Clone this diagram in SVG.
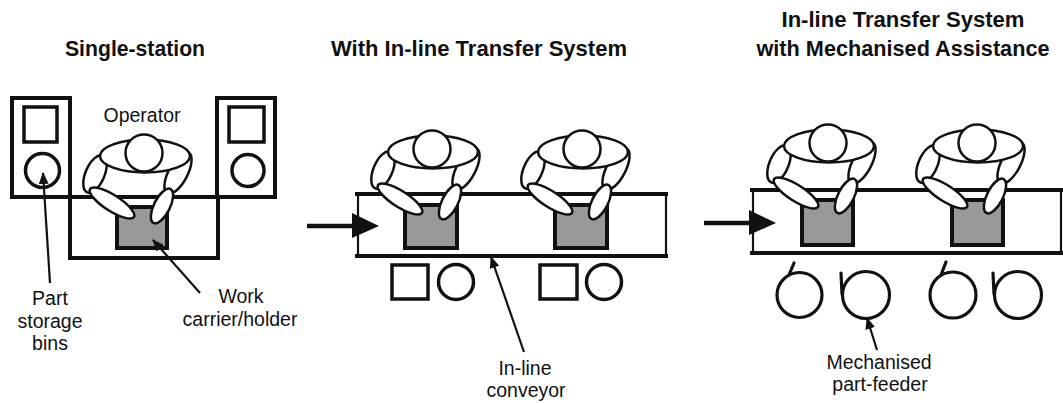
<svg xmlns="http://www.w3.org/2000/svg" xmlns:xlink="http://www.w3.org/1999/xlink" width="1063" height="403" viewBox="0 0 1063 403">
  <style>
    .title { font-family: "Liberation Sans", Arial, sans-serif; font-weight: bold; font-size: 22px; fill: #111; text-anchor: middle; }
    .label { font-family: "Liberation Sans", Arial, sans-serif; font-size: 19.5px; fill: #111; text-anchor: middle; }
    .frame { fill: none; stroke: #111; stroke-width: 4; }
    .thin { fill: none; stroke: #111; stroke-width: 2.2; }
    .carrier { fill: #999; stroke: #111; stroke-width: 4; }
    .bin { fill: #fff; stroke: #111; stroke-width: 3.5; }
    .body { fill: #fff; stroke: #111; stroke-width: 2.5; }
    .feeder { fill: none; stroke: #111; stroke-width: 3.2; stroke-linecap: round; }
    .lead { stroke: #111; stroke-width: 2.2; fill: none; }
    .flow { stroke: #111; stroke-width: 4.5; fill: none; }
  </style>
  <defs>
    <!-- top view of a seated operator, origin at the head centre -->
    <g id="operator">
      <ellipse class="body" cx="-49" cy="21" rx="20" ry="9.5" transform="rotate(113 -49 21)"/>
      <ellipse class="body" cx="34" cy="20" rx="23" ry="9.5" transform="rotate(117.6 34 20)"/>
      <ellipse class="body" cx="1" cy="3" rx="45" ry="16.5"/>
      <circle class="body" cx="0" cy="0" r="18.5"/>
      <ellipse class="body" cx="-32" cy="50" rx="26" ry="8" transform="rotate(32.5 -32 50)"/>
      <ellipse class="body" cx="18" cy="53" rx="19" ry="8" transform="rotate(116.6 18 53)"/>
    </g>
    <marker id="tip" viewBox="0 0 12 10" refX="11" refY="5" markerWidth="12" markerHeight="10" markerUnits="userSpaceOnUse" orient="auto">
      <path d="M0,0 L12,5 L0,10 z" fill="#111"/>
    </marker>
  </defs>

  <!-- panel titles -->
  <g id="titles">
    <text class="title" x="135" y="56" textLength="140" lengthAdjust="spacingAndGlyphs">Single-station</text>
    <text class="title" x="479" y="56" textLength="296" lengthAdjust="spacingAndGlyphs">With In-line Transfer System</text>
    <text class="title" x="903" y="27" textLength="243" lengthAdjust="spacingAndGlyphs">In-line Transfer System</text>
    <text class="title" x="903" y="56" textLength="293" lengthAdjust="spacingAndGlyphs">with Mechanised Assistance</text>
  </g>

  <!-- single station: bins either side, bench, carrier -->
  <g id="single-station">
    <rect class="frame" x="12" y="98" width="58" height="99"/>
    <rect class="frame" x="217" y="98" width="58" height="99"/>
    <line class="frame" x1="10" y1="197" x2="277" y2="197"/>
    <polyline class="frame" points="70,197 70,258 218,258 218,197"/>
    <rect class="bin" x="24" y="107" width="33" height="35"/>
    <circle class="bin" cx="42.5" cy="170.5" r="17"/>
    <rect class="bin" x="229" y="107" width="35" height="35"/>
    <circle class="bin" cx="248" cy="170.5" r="16"/>
    <rect class="carrier" x="117" y="207" width="50" height="41"/>
    <use xlink:href="#operator" href="#operator" x="144" y="153"/>
    <text class="label" x="142" y="122">Operator</text>
  </g>

  <!-- in-line transfer: conveyor, carriers, bins, two operators -->
  <g id="inline-transfer">
    <line class="frame" x1="355" y1="194" x2="668" y2="194"/>
    <line class="frame" x1="355" y1="256" x2="668" y2="256"/>
    <line class="thin" x1="358" y1="194" x2="358" y2="256"/>
    <line class="thin" x1="666" y1="194" x2="666" y2="256"/>
    <rect class="carrier" x="405" y="205" width="52" height="43"/>
    <rect class="carrier" x="555" y="205" width="52" height="43"/>
    <rect class="bin" x="392" y="265" width="36" height="34"/>
    <circle class="bin" cx="456" cy="282" r="17.5"/>
    <rect class="bin" x="540" y="265" width="37" height="34"/>
    <circle class="bin" cx="604" cy="282" r="17.5"/>
    <use xlink:href="#operator" href="#operator" x="432" y="149"/>
    <use xlink:href="#operator" href="#operator" x="582" y="149"/>
  </g>

  <!-- in-line transfer with mechanised part-feeders -->
  <g id="mechanised-transfer">
    <line class="frame" x1="750" y1="190" x2="1063" y2="190"/>
    <line class="frame" x1="750" y1="253" x2="1063" y2="253"/>
    <line class="thin" x1="753" y1="190" x2="753" y2="253"/>
    <line class="thin" x1="1061" y1="190" x2="1061" y2="253"/>
    <rect class="carrier" x="802" y="200" width="51" height="45"/>
    <rect class="carrier" x="952" y="200" width="51" height="45"/>
    <use xlink:href="#operator" href="#operator" x="828" y="143"/>
    <use xlink:href="#operator" href="#operator" x="977" y="143"/>
  </g>

  <g id="feeders">
    <circle class="feeder" cx="799.5" cy="295" r="22.5"/>
    <line class="feeder" x1="789" y1="275" x2="794" y2="263"/>
    <circle class="feeder" cx="866" cy="295" r="23.5"/>
    <line class="feeder" x1="842" y1="294" x2="841" y2="273"/>
    <circle class="feeder" cx="953" cy="295" r="23"/>
    <line class="feeder" x1="941" y1="275" x2="946" y2="262"/>
    <circle class="feeder" cx="1018" cy="295" r="23.5"/>
    <line class="feeder" x1="994" y1="294" x2="993" y2="273"/>
  </g>

  <!-- flow arrows and label leaders -->
  <g id="connectors">
    <line class="flow" x1="307" y1="226" x2="356" y2="226"/>
    <polygon points="352,213 379,226 352,238" fill="#111"/>
    <line class="flow" x1="704" y1="223" x2="752" y2="223"/>
    <polygon points="749,210 776,223 749,235" fill="#111"/>
    <line class="lead" x1="50" y1="283" x2="43" y2="173" marker-end="url(#tip)"/>
    <line class="lead" x1="200" y1="293" x2="153" y2="240" marker-end="url(#tip)"/>
    <line class="lead" x1="524" y1="352" x2="491" y2="257" marker-end="url(#tip)"/>
    <line class="lead" x1="877" y1="350" x2="867" y2="318" marker-end="url(#tip)"/>
  </g>

  <g id="labels">
    <text class="label" x="50" y="305">Part</text>
    <text class="label" x="50" y="328">storage</text>
    <text class="label" x="50" y="350">bins</text>
    <text class="label" x="241" y="303">Work</text>
    <text class="label" x="240" y="326">carrier/holder</text>
    <text class="label" x="525" y="375">In-line</text>
    <text class="label" x="526" y="397">conveyor</text>
    <text class="label" x="879" y="369">Mechanised</text>
    <text class="label" x="880" y="391">part-feeder</text>
  </g>
</svg>
